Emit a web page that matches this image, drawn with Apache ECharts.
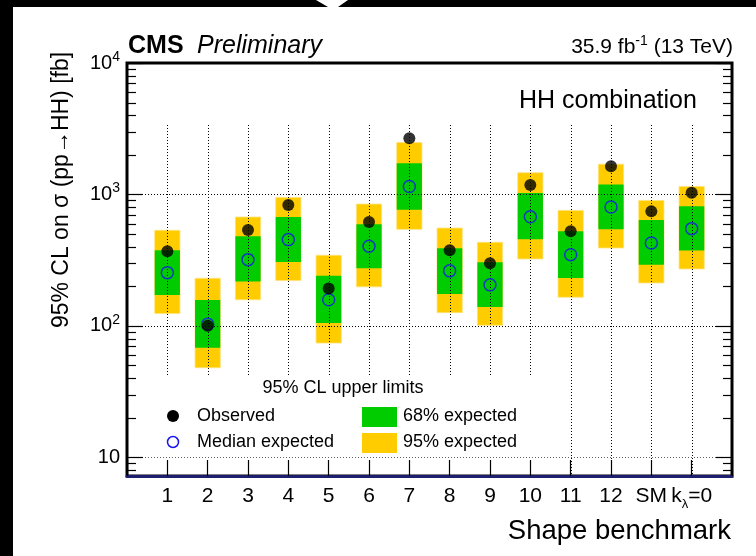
<!DOCTYPE html>
<html>
<head>
<meta charset="utf-8">
<script src="https://cdn.jsdelivr.net/npm/echarts@6/dist/echarts.min.js"></script>
<style>
  html, body { margin: 0; padding: 0; background: #fff; }
  #chart { width: 756px; height: 556px; }
</style>
</head>
<body>
<div id="chart"></div>
<script>
// HH shape-benchmark limits, 95% CL upper limits on sigma(pp -> HH) in fb
const benchmarks = ['1', '2', '3', '4', '5', '6', '7', '8', '9', '10', '11', '12', 'SM', 'kλ=0'];
const observed   = [369, 100, 536, 830, 192, 616, 2680, 376, 299, 1180, 524, 1640, 743, 1030];
const expMedian  = [254, 103, 319, 453, 158, 403, 1150, 262, 205, 677, 348, 801, 427, 549];
const exp68Low   = [172, 68, 217, 306, 105, 274, 765, 175, 139, 455, 231, 542, 292, 374];
const exp68High  = [376, 157, 480, 673, 240, 592, 1730, 389, 305, 1023, 524, 1191, 638, 811];
const exp95Low   = [124, 48, 158, 221, 74, 198, 542, 126, 101, 323, 165, 391, 212, 271];
const exp95High  = [533, 230, 673, 949, 344, 844, 2480, 555, 432, 1462, 756, 1698, 900, 1150];
const yDecades   = [10, 100, 1000, 10000];

const FONT = '"Liberation Sans", Arial, Helvetica, sans-serif';
const Y_MIN = 7.2, Y_MAX = 10000;
const BOX_HALF = 0.313;          // half width of the expected bands, in x units
const HEADER_BOTTOM = 125;       // grid lines start below the header text block
const LEGEND_BOX = { x0: 130, x1: 545, y0: 376, y1: 456 };

// axis ticks: majors at decades, minors at 2..9 x decade
const yTicks = [];
for (let d = 1; d <= 1000; d *= 10) {
  for (let k = 1; k <= 9; k++) {
    const v = k * d;
    if (v >= Y_MIN && v <= Y_MAX) yTicks.push([0, v, k === 1 ? 1 : 0]);
  }
}
yTicks.push([0, 10000, 1]);

const chart = echarts.init(document.getElementById('chart'), null, { renderer: 'canvas' });

function renderBands(params, api) {
  const x = api.value(0);
  const a95 = api.coord([x - BOX_HALF, api.value(2)]);
  const b95 = api.coord([x + BOX_HALF, api.value(1)]);
  const a68 = api.coord([x - BOX_HALF, api.value(4)]);
  const b68 = api.coord([x + BOX_HALF, api.value(3)]);
  return {
    type: 'group',
    children: [
      { type: 'rect', shape: { x: a95[0], y: a95[1], width: b95[0] - a95[0], height: b95[1] - a95[1] },
        style: { fill: '#ffcc00', stroke: '#ffe27a', lineWidth: 0.8 } },
      { type: 'rect', shape: { x: a68[0], y: a68[1], width: b68[0] - a68[0], height: b68[1] - a68[1] },
        style: { fill: '#00cc00' } }
    ]
  };
}

function renderVGrid(params, api) {
  const cs = params.coordSys;
  const x = Math.round(api.coord([api.value(0), Y_MAX])[0]) + 0.5;
  const inLegend = x >= LEGEND_BOX.x0 && x <= LEGEND_BOX.x1;
  const bottom = inLegend ? LEGEND_BOX.y0 : cs.y + cs.height;
  return {
    type: 'line',
    shape: { x1: x, y1: HEADER_BOTTOM, x2: x, y2: bottom },
    style: { stroke: '#000', lineWidth: 1, lineDash: [1, 2] }
  };
}

function renderHGrid(params, api) {
  const cs = params.coordSys;
  const y = Math.round(api.coord([0, api.value(1)])[1]) + 0.5;
  return {
    type: 'line',
    shape: { x1: cs.x, y1: y, x2: cs.x + cs.width, y2: y },
    style: { stroke: api.value(1) === 10 ? '#666' : '#000', lineWidth: 1, lineDash: [1, 2] }
  };
}

function renderYTicks(params, api) {
  const cs = params.coordSys;
  const y = Math.round(api.coord([0, api.value(1)])[1]) + 0.5;
  const len = api.value(2) ? 16 : 9;
  const xl = cs.x, xr = cs.x + cs.width;
  return {
    type: 'group',
    children: [
      { type: 'line', shape: { x1: xl, y1: y, x2: xl + len, y2: y }, style: { stroke: '#000', lineWidth: 1.2 } },
      { type: 'line', shape: { x1: xr - len, y1: y, x2: xr, y2: y }, style: { stroke: '#000', lineWidth: 1.2 } }
    ]
  };
}

const option = {
  animation: false,
  backgroundColor: '#fff',
  textStyle: { fontFamily: FONT },
  grid: {
    left: 127, right: 24, top: 63, bottom: 80,
    show: true, borderColor: '#000', borderWidth: 3, backgroundColor: '#fff'
  },
  xAxis: {
    type: 'value', min: 0, max: 15, interval: 1,
    axisLine: { show: true, onZero: false, lineStyle: { color: '#1e1e70', width: 3 } },
    axisTick: { show: true, inside: true, length: 16, lineStyle: { color: '#000', width: 1.2 } },
    splitLine: { show: false },
    axisLabel: {
      color: '#000', fontSize: 21, fontFamily: FONT, margin: 5, lineHeight: 30,
      formatter: function (v) {
        const i = Math.round(v) - 1;
        if (i < 0 || i >= benchmarks.length) return '';
        const s = benchmarks[i];
        if (s.indexOf('λ') >= 0) {
          const parts = s.split('λ');
          return '{m|' + parts[0] + '}{sub|λ}{m|' + parts[1] + '}';
        }
        return '{m|' + s + '}';
      },
      rich: {
        m: { fontSize: 21, fontFamily: FONT, color: '#000', lineHeight: 30 },
        sub: { fontSize: 13, fontFamily: FONT, color: '#000', lineHeight: 13, verticalAlign: 'bottom' }
      }
    }
  },
  yAxis: {
    type: 'log', logBase: 10, min: Y_MIN, max: Y_MAX,
    axisLine: { show: false },
    axisTick: { show: false },
    splitLine: { show: false },
    axisLabel: {
      color: '#000', fontSize: 20, fontFamily: FONT, margin: 7,
      showMinLabel: false, showMaxLabel: true,
      formatter: function (v) {
        const e = Math.round(Math.log10(v));
        if (Math.abs(Math.pow(10, e) - v) > 1e-6 * v) return '';
        if (e === 1) return '{b|10}';
        return '{b|10}{sup|' + e + '}';
      },
      rich: {
        b: { fontSize: 20, fontFamily: FONT, color: '#000', lineHeight: 26 },
        sup: { fontSize: 14, fontFamily: FONT, color: '#000', lineHeight: 14, verticalAlign: 'top' }
      }
    }
  },
  series: [
    {
      name: 'Expected bands', type: 'custom', z: 2, silent: true,
      renderItem: renderBands,
      encode: { x: 0, y: [1, 2, 3, 4] },
      data: benchmarks.map((b, i) => [i + 1, exp95Low[i], exp95High[i], exp68Low[i], exp68High[i]])
    },
    {
      name: 'Vertical grid', type: 'custom', z: 3, silent: true,
      renderItem: renderVGrid,
      encode: { x: 0, y: 1 },
      data: benchmarks.map((b, i) => [i + 1, Y_MAX])
    },
    {
      name: 'Horizontal grid', type: 'custom', z: 3, silent: true,
      renderItem: renderHGrid,
      encode: { x: 0, y: 1 },
      data: yDecades.slice(0, 3).map(v => [0, v])
    },
    {
      name: 'Median expected', type: 'scatter', z: 5,
      symbol: 'circle', symbolSize: 12,
      itemStyle: { color: 'rgba(0,0,0,0)', borderColor: '#1515f0', borderWidth: 1.5 },
      data: benchmarks.map((b, i) => [i + 1, expMedian[i]])
    },
    {
      name: 'Observed', type: 'scatter', z: 6,
      symbol: 'circle', symbolSize: 12,
      itemStyle: { color: '#000' },
      data: benchmarks.map((b, i) => [i + 1, observed[i]])
    },
    {
      name: 'Axis ticks', type: 'custom', z: 7, silent: true,
      renderItem: renderYTicks,
      encode: { x: 0, y: 1 },
      data: yTicks
    }
  ],
  graphic: [
    // page border
    { type: 'rect', shape: { x: 0, y: 0, width: 13, height: 556 }, style: { fill: '#000' }, silent: true },
    { type: 'polygon', shape: { points: [[0, 0], [316, 0], [328, 7], [0, 7]] }, style: { fill: '#000' }, silent: true },
    { type: 'polygon', shape: { points: [[348, 0], [756, 0], [756, 7], [338, 7]] }, style: { fill: '#000' }, silent: true },
    // header
    { type: 'text', x: 128, y: 46, style: { text: 'CMS', font: 'bold 25px ' + FONT, fill: '#000', textVerticalAlign: 'middle' } },
    { type: 'text', x: 197, y: 46, style: { text: 'Preliminary', font: 'italic 25px ' + FONT, fill: '#000', textVerticalAlign: 'middle' } },
    { type: 'text', x: 733, y: 47, style: {
        text: '35.9 fb{sup|-1} (13 TeV)', font: '21px ' + FONT, fill: '#000',
        textAlign: 'right', textVerticalAlign: 'middle', lineHeight: 26,
        rich: { sup: { fontSize: 14, fontFamily: FONT, fill: '#000', lineHeight: 13, verticalAlign: 'top' } }
      } },
    { type: 'text', x: 519, y: 101, style: { text: 'HH combination', font: '25px ' + FONT, fill: '#000', textVerticalAlign: 'middle' } },
    // axis titles
    { type: 'text', x: 62, y: 190, rotation: Math.PI / 2, style: {
        text: '95% CL on σ (pp→HH) [fb]', font: '23px ' + FONT, fill: '#000',
        textAlign: 'center', textVerticalAlign: 'middle' } },
    { type: 'text', x: 731, y: 531, style: {
        text: 'Shape benchmark', font: '27.5px ' + FONT, fill: '#000',
        textAlign: 'right', textVerticalAlign: 'middle' } },
    // legend
    { type: 'text', x: 343, y: 388, z: 10, style: { text: '95% CL upper limits', font: '18px ' + FONT, fill: '#000', textAlign: 'center', textVerticalAlign: 'middle' } },
    { type: 'circle', z: 10, shape: { cx: 173, cy: 416, r: 6 }, style: { fill: '#000' } },
    { type: 'text', x: 197, y: 416, z: 10, style: { text: 'Observed', font: '18px ' + FONT, fill: '#000', textVerticalAlign: 'middle' } },
    { type: 'circle', z: 10, shape: { cx: 173, cy: 442, r: 5.5 }, style: { fill: 'none', stroke: '#1515f0', lineWidth: 1.5 } },
    { type: 'text', x: 197, y: 442, z: 10, style: { text: 'Median expected', font: '18px ' + FONT, fill: '#000', textVerticalAlign: 'middle' } },
    { type: 'rect', z: 10, shape: { x: 362, y: 407, width: 35, height: 20 }, style: { fill: '#00cc00' } },
    { type: 'text', x: 403, y: 416, z: 10, style: { text: '68% expected', font: '18px ' + FONT, fill: '#000', textVerticalAlign: 'middle' } },
    { type: 'rect', z: 10, shape: { x: 362, y: 433, width: 35, height: 20 }, style: { fill: '#ffcc00' } },
    { type: 'text', x: 403, y: 442, z: 10, style: { text: '95% expected', font: '18px ' + FONT, fill: '#000', textVerticalAlign: 'middle' } }
  ]
};

chart.setOption(option);
</script>
</body>
</html>
